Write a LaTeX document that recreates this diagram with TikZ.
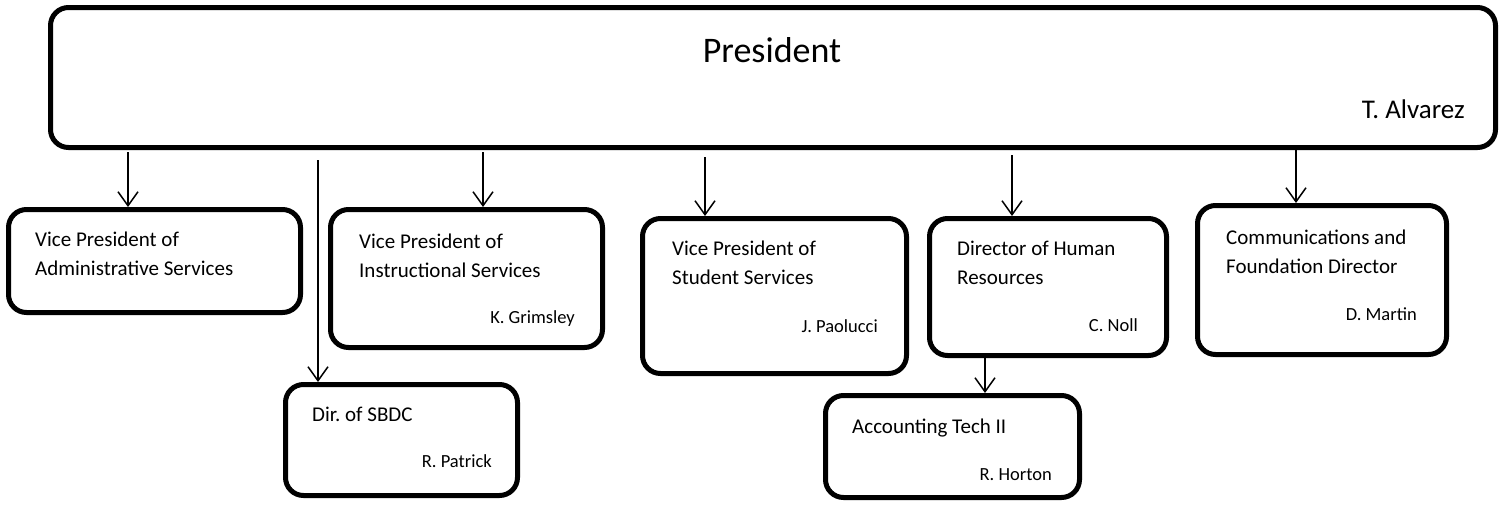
\documentclass[tikz,border=0pt]{standalone}
\usepackage{fontspec}
\setmainfont{Carlito}
\usetikzlibrary{arrows.meta}
\frenchspacing
\tikzset{
  box/.style={draw, line width=5pt, rounded corners=18pt, inner sep=0pt},
  ttl/.style={anchor=base west, inner sep=0pt, align=left, font=\fontsize{21}{28.5}\selectfont},
  nm/.style={anchor=base east, inner sep=0pt, font=\fontsize{18.5}{22}\selectfont},
  arr/.style={line width=1.5pt, -{Straight Barb[length=14pt,width=20pt,line width=1.5pt]}},
}
\begin{document}
\begin{tikzpicture}[x=1pt,y=-1pt]
\useasboundingbox (0,0) rectangle (1502,504);
% boxes
\node[box, minimum width=1445pt, minimum height=140pt] (pres) at (773,77.5) {};
\node[box, minimum width=292pt, minimum height=103pt] (admin) at (154.5,261) {};
\node[box, minimum width=272pt, minimum height=138pt] (instr) at (466.5,278.5) {};
\node[box, minimum width=232pt, minimum height=111pt] (sbdc) at (401.5,440) {};
\node[box, minimum width=264pt, minimum height=155pt] (student) at (774.5,296) {};
\node[box, minimum width=237pt, minimum height=137pt] (hr) at (1048,287) {};
\node[box, minimum width=249pt, minimum height=149pt] (comm) at (1322,280) {};
\node[box, minimum width=254pt, minimum height=102pt] (acct) at (952.5,446.5) {};
% texts (multi-line nodes: base = last line)
\node[anchor=base, inner sep=0pt, font=\fontsize{36}{40}\selectfont] (prest) at (772,62) {President};
\node[anchor=base east, inner sep=0pt, font=\fontsize{27}{30}\selectfont] (presn) at (1465,118) {T. Alvarez};
\node[ttl] (admint) at (35,275) {Vice President of\\Administrative Services};
\node[ttl] (instrt) at (359,277) {Vice President of\\Instructional Services};
\node[nm] (instrn) at (575,323) {K. Grimsley};
\node[ttl] (sbdct) at (312,421) {Dir. of SBDC};
\node[nm] (sbdcn) at (492,467) {R. Patrick};
\node[ttl] (studentt) at (672,284) {Vice President of\\Student Services};
\node[nm] (studentn) at (878,332) {J. Paolucci};
\node[ttl] (hrt) at (957,284) {Director of Human\\Resources};
\node[nm] (hrn) at (1138,331) {C. Noll};
\node[ttl] (commt) at (1226,273) {Communications and\\Foundation Director};
\node[nm] (commn) at (1417,320) {D. Martin};
\node[ttl] (acctt) at (852,433) {Accounting Tech II};
\node[nm] (acctn) at (1052,480) {R. Horton};
% connectors
\coordinate (c1) at (128,152);
\coordinate (c2) at (318,160);
\coordinate (c3) at (483,152);
\coordinate (c4) at (705,157);
\coordinate (c5) at (1012,155);
\coordinate (c6) at (1296,150);
\draw[arr] (c1) -- (c1 |- admin.north);
\draw[arr] (c2) -- (c2 |- sbdc.north);
\draw[arr] (c3) -- (c3 |- instr.north);
\draw[arr] (c4) -- (c4 |- student.north);
\draw[arr] (c5) -- (c5 |- hr.north);
\draw[arr] (c6) -- (c6 |- comm.north);
\coordinate (c7) at (985,0);
\draw[arr] (c7 |- hr.south) -- (c7 |- acct.north);
\end{tikzpicture}
\end{document}
